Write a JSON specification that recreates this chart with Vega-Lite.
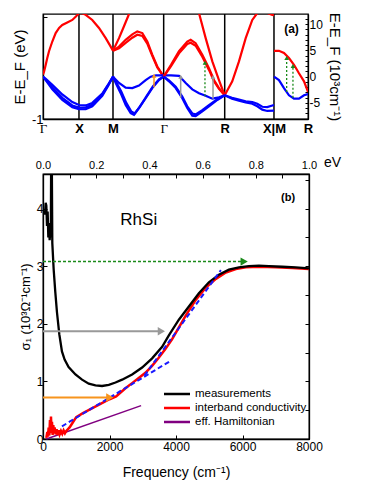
{
"$schema":"https://vega.github.io/schema/vega-lite/v6.json",
"padding":{"left":11,"top":11,"right":5,"bottom":5},
"spacing":18,
"resolve":{"scale":{"color":"independent"}},
"config":{"font":"Liberation Sans","view":{"stroke":"black","strokeWidth":1.3},
"axis":{"domainColor":"black","tickColor":"black","labelColor":"black","titleColor":"black","grid":false,"titleFontWeight":"normal","tickSize":-4,"labelFontSize":11,"titleFontSize":13,"domainWidth":1.3}},
"datasets":{
"bands":[
{"b":"c1","t":"cond","k":0,"E":0.05},{"b":"c1","t":"cond","k":0.015,"E":0.12},{"b":"c1","t":"cond","k":0.039,"E":0.28},{"b":"c1","t":"cond","k":0.061,"E":0.44},{"b":"c1","t":"cond","k":0.086,"E":0.6},{"b":"c1","t":"cond","k":0.133,"E":0.83},{"b":"c1","t":"cond","k":0.181,"E":1.03},{"b":"c1","t":"cond","k":0.23,"E":1.15},{"b":"c1","t":"cond","k":0.276,"E":1.22},{"b":"c1","t":"cond","k":0.347,"E":1.28},{"b":"c1","t":"cond","k":0.419,"E":1.34},{"b":"c1","t":"cond","k":0.47,"E":1.42},{"b":"c1","t":"cond","k":0.514,"E":1.5},{"b":"c1","t":"cond","k":0.56,"E":1.5},{"b":"c1","t":"cond","k":0.61,"E":1.46},{"b":"c1","t":"cond","k":0.704,"E":1.34},{"b":"c1","t":"cond","k":0.8,"E":1.15},{"b":"c1","t":"cond","k":0.896,"E":0.91},{"b":"c1","t":"cond","k":0.967,"E":0.71},{"b":"c1","t":"cond","k":1.0,"E":0.61},
{"b":"vlow","t":"val","k":0,"E":0},{"b":"vlow","t":"val","k":0.04,"E":-0.09},{"b":"vlow","t":"val","k":0.133,"E":-0.3},{"b":"vlow","t":"val","k":0.276,"E":-0.55},{"b":"vlow","t":"val","k":0.419,"E":-0.72},{"b":"vlow","t":"val","k":0.514,"E":-0.77},{"b":"vlow","t":"val","k":0.61,"E":-0.77},{"b":"vlow","t":"val","k":0.704,"E":-0.7},{"b":"vlow","t":"val","k":0.847,"E":-0.45},{"b":"vlow","t":"val","k":0.93,"E":-0.22},{"b":"vlow","t":"val","k":1.0,"E":0},
{"b":"vmid","t":"val","k":0,"E":0},{"b":"vmid","t":"val","k":0.04,"E":-0.07},{"b":"vmid","t":"val","k":0.133,"E":-0.25},{"b":"vmid","t":"val","k":0.276,"E":-0.5},{"b":"vmid","t":"val","k":0.419,"E":-0.68},{"b":"vmid","t":"val","k":0.514,"E":-0.73},{"b":"vmid","t":"val","k":0.61,"E":-0.73},{"b":"vmid","t":"val","k":0.704,"E":-0.66},{"b":"vmid","t":"val","k":0.847,"E":-0.42},{"b":"vmid","t":"val","k":0.93,"E":-0.2},{"b":"vmid","t":"val","k":1.0,"E":0},
{"b":"vup","t":"val","k":0,"E":0},{"b":"vup","t":"val","k":0.04,"E":-0.05},{"b":"vup","t":"val","k":0.133,"E":-0.19},{"b":"vup","t":"val","k":0.276,"E":-0.42},{"b":"vup","t":"val","k":0.419,"E":-0.6},{"b":"vup","t":"val","k":0.514,"E":-0.67},{"b":"vup","t":"val","k":0.61,"E":-0.68},{"b":"vup","t":"val","k":0.704,"E":-0.62},{"b":"vup","t":"val","k":0.847,"E":-0.4},{"b":"vup","t":"val","k":0.93,"E":-0.19},{"b":"vup","t":"val","k":1.0,"E":0},
{"b":"c2","t":"cond","k":1.0,"E":0.61},{"b":"c2","t":"cond","k":1.086,"E":0.91},{"b":"c2","t":"cond","k":1.157,"E":1.19},{"b":"c2","t":"cond","k":1.229,"E":1.48},{"b":"c2","t":"cond","k":1.3,"E":1.78},
{"b":"c3","t":"cond","k":1.0,"E":0.61},{"b":"c3","t":"cond","k":1.086,"E":0.71},{"b":"c3","t":"cond","k":1.181,"E":0.87},{"b":"c3","t":"cond","k":1.276,"E":1.0},{"b":"c3","t":"cond","k":1.347,"E":1.07},{"b":"c3","t":"cond","k":1.419,"E":1.03},{"b":"c3","t":"cond","k":1.49,"E":0.83},{"b":"c3","t":"cond","k":1.561,"E":0.52},{"b":"c3","t":"cond","k":1.633,"E":0.24},{"b":"c3","t":"cond","k":1.724,"E":0},
{"b":"c4","t":"cond","k":1.0,"E":0.61},{"b":"c4","t":"cond","k":1.086,"E":0.67},{"b":"c4","t":"cond","k":1.181,"E":0.8},{"b":"c4","t":"cond","k":1.276,"E":0.92},{"b":"c4","t":"cond","k":1.347,"E":0.99},{"b":"c4","t":"cond","k":1.419,"E":0.96},{"b":"c4","t":"cond","k":1.49,"E":0.78},{"b":"c4","t":"cond","k":1.561,"E":0.49},{"b":"c4","t":"cond","k":1.633,"E":0.22},{"b":"c4","t":"cond","k":1.724,"E":0},
{"b":"b1","t":"val","k":1.0,"E":0},{"b":"b1","t":"val","k":1.086,"E":-0.15},{"b":"b1","t":"val","k":1.181,"E":-0.26},{"b":"b1","t":"val","k":1.276,"E":-0.27},{"b":"b1","t":"val","k":1.371,"E":-0.21},{"b":"b1","t":"val","k":1.467,"E":-0.08},{"b":"b1","t":"val","k":1.539,"E":0.0},{"b":"b1","t":"val","k":1.614,"E":0.03},{"b":"b1","t":"val","k":1.724,"E":0.03},{"b":"b1","t":"val","k":1.829,"E":0.03},{"b":"b1","t":"val","k":1.943,"E":0.02},{"b":"b1","t":"val","k":2.039,"E":-0.15},{"b":"b1","t":"val","k":2.133,"E":-0.3},{"b":"b1","t":"val","k":2.229,"E":-0.39},{"b":"b1","t":"val","k":2.324,"E":-0.45},{"b":"b1","t":"val","k":2.419,"E":-0.52},{"b":"b1","t":"val","k":2.514,"E":-0.49},{"b":"b1","t":"val","k":2.596,"E":-0.44},
{"b":"b2","t":"val","k":1.0,"E":0},{"b":"b2","t":"val","k":1.039,"E":-0.15},{"b":"b2","t":"val","k":1.11,"E":-0.39},{"b":"b2","t":"val","k":1.181,"E":-0.67},{"b":"b2","t":"val","k":1.253,"E":-0.86},{"b":"b2","t":"val","k":1.3,"E":-0.9},{"b":"b2","t":"val","k":1.371,"E":-0.74},{"b":"b2","t":"val","k":1.467,"E":-0.51},{"b":"b2","t":"val","k":1.561,"E":-0.27},{"b":"b2","t":"val","k":1.657,"E":-0.08},{"b":"b2","t":"val","k":1.724,"E":0},
{"b":"b3","t":"val","k":1.0,"E":0},{"b":"b3","t":"val","k":1.045,"E":-0.13},{"b":"b3","t":"val","k":1.118,"E":-0.35},{"b":"b3","t":"val","k":1.19,"E":-0.62},{"b":"b3","t":"val","k":1.26,"E":-0.82},{"b":"b3","t":"val","k":1.31,"E":-0.87},{"b":"b3","t":"val","k":1.38,"E":-0.72},{"b":"b3","t":"val","k":1.475,"E":-0.47},{"b":"b3","t":"val","k":1.57,"E":-0.23},{"b":"b3","t":"val","k":1.66,"E":-0.06},{"b":"b3","t":"val","k":1.724,"E":0},
{"b":"c5","t":"cond","k":1.724,"E":0},{"b":"c5","t":"cond","k":1.829,"E":0.28},{"b":"c5","t":"cond","k":1.943,"E":0.6},{"b":"c5","t":"cond","k":2.061,"E":0.83},{"b":"c5","t":"cond","k":2.11,"E":0.87},{"b":"c5","t":"cond","k":2.181,"E":0.79},{"b":"c5","t":"cond","k":2.276,"E":0.52},{"b":"c5","t":"cond","k":2.371,"E":0.2},{"b":"c5","t":"cond","k":2.443,"E":-0.08},{"b":"c5","t":"cond","k":2.514,"E":-0.27},{"b":"c5","t":"cond","k":2.596,"E":-0.44},
{"b":"c6","t":"cond","k":1.724,"E":0},{"b":"c6","t":"cond","k":1.829,"E":0.25},{"b":"c6","t":"cond","k":1.943,"E":0.55},{"b":"c6","t":"cond","k":2.061,"E":0.77},{"b":"c6","t":"cond","k":2.11,"E":0.8},{"b":"c6","t":"cond","k":2.181,"E":0.73},{"b":"c6","t":"cond","k":2.276,"E":0.47},{"b":"c6","t":"cond","k":2.371,"E":0.16},{"b":"c6","t":"cond","k":2.443,"E":-0.11},{"b":"c6","t":"cond","k":2.514,"E":-0.29},{"b":"c6","t":"cond","k":2.596,"E":-0.44},
{"b":"c7","t":"cond","k":2.15,"E":2.0},{"b":"c7","t":"cond","k":2.229,"E":1.5},{"b":"c7","t":"cond","k":2.324,"E":0.91},{"b":"c7","t":"cond","k":2.419,"E":0.36},{"b":"c7","t":"cond","k":2.514,"E":-0.08},{"b":"c7","t":"cond","k":2.596,"E":-0.44},
{"b":"c8","t":"cond","k":2.596,"E":-0.44},{"b":"c8","t":"cond","k":2.704,"E":-0.11},{"b":"c8","t":"cond","k":2.8,"E":0.36},{"b":"c8","t":"cond","k":2.896,"E":0.91},{"b":"c8","t":"cond","k":2.99,"E":1.34},{"b":"c8","t":"cond","k":3.061,"E":1.5},{"b":"c8","t":"cond","k":3.181,"E":1.52},{"b":"c8","t":"cond","k":3.276,"E":1.46},{"b":"c8","t":"cond","k":3.3,"E":1.45},
{"b":"bB","t":"val","k":1.724,"E":0},{"b":"bB","t":"val","k":1.8,"E":-0.11},{"b":"bB","t":"val","k":1.896,"E":-0.27},{"b":"bB","t":"val","k":1.99,"E":-0.51},{"b":"bB","t":"val","k":2.061,"E":-0.74},{"b":"bB","t":"val","k":2.133,"E":-0.92},{"b":"bB","t":"val","k":2.181,"E":-0.93},{"b":"bB","t":"val","k":2.276,"E":-0.82},{"b":"bB","t":"val","k":2.371,"E":-0.7},{"b":"bB","t":"val","k":2.49,"E":-0.55},{"b":"bB","t":"val","k":2.596,"E":-0.44},
{"b":"bB2","t":"val","k":1.724,"E":0},{"b":"bB2","t":"val","k":1.8,"E":-0.09},{"b":"bB2","t":"val","k":1.896,"E":-0.24},{"b":"bB2","t":"val","k":1.99,"E":-0.47},{"b":"bB2","t":"val","k":2.061,"E":-0.7},{"b":"bB2","t":"val","k":2.133,"E":-0.87},{"b":"bB2","t":"val","k":2.181,"E":-0.89},{"b":"bB2","t":"val","k":2.276,"E":-0.79},{"b":"bB2","t":"val","k":2.371,"E":-0.67},{"b":"bB2","t":"val","k":2.49,"E":-0.53},{"b":"bB2","t":"val","k":2.596,"E":-0.44},
{"b":"bR1","t":"val","k":2.596,"E":-0.44},{"b":"bR1","t":"val","k":2.7,"E":-0.5},{"b":"bR1","t":"val","k":2.8,"E":-0.54},{"b":"bR1","t":"val","k":2.896,"E":-0.58},{"b":"bR1","t":"val","k":2.99,"E":-0.6},{"b":"bR1","t":"val","k":3.061,"E":-0.64},{"b":"bR1","t":"val","k":3.133,"E":-0.71},{"b":"bR1","t":"val","k":3.204,"E":-0.72},{"b":"bR1","t":"val","k":3.3,"E":-0.67},
{"b":"bR2","t":"val","k":2.596,"E":-0.44},{"b":"bR2","t":"val","k":2.7,"E":-0.52},{"b":"bR2","t":"val","k":2.8,"E":-0.57},{"b":"bR2","t":"val","k":2.896,"E":-0.61},{"b":"bR2","t":"val","k":2.99,"E":-0.64},{"b":"bR2","t":"val","k":3.061,"E":-0.7},{"b":"bR2","t":"val","k":3.133,"E":-0.78},{"b":"bR2","t":"val","k":3.204,"E":-0.81},{"b":"bR2","t":"val","k":3.3,"E":-0.8},
{"b":"c9","t":"cond","k":3.3,"E":0.61},{"b":"c9","t":"cond","k":3.371,"E":0.61},{"b":"c9","t":"cond","k":3.443,"E":0.56},{"b":"c9","t":"cond","k":3.514,"E":0.44},{"b":"c9","t":"cond","k":3.586,"E":0.28},{"b":"c9","t":"cond","k":3.657,"E":0.08},{"b":"c9","t":"cond","k":3.729,"E":-0.11},{"b":"c9","t":"cond","k":3.786,"E":-0.36},
{"b":"b9","t":"val","k":3.3,"E":0},{"b":"b9","t":"val","k":3.371,"E":-0.08},{"b":"b9","t":"val","k":3.443,"E":-0.27},{"b":"b9","t":"val","k":3.514,"E":-0.44},{"b":"b9","t":"val","k":3.586,"E":-0.52},{"b":"b9","t":"val","k":3.657,"E":-0.52},{"b":"b9","t":"val","k":3.729,"E":-0.44},{"b":"b9","t":"val","k":3.786,"E":-0.41}
],
"kpts":[{"k":0.514},{"k":1.0},{"k":1.724},{"k":2.596},{"k":3.3}],
"tarrows":[
{"kind":"orange","k":1.586,"y1":-0.25,"y2":0.02},
{"kind":"grey","k":1.967,"y1":-0.5,"y2":0.0},
{"kind":"grey","k":2.429,"y1":-0.52,"y2":-0.01},
{"kind":"green","k":2.314,"y1":-0.46,"y2":0.33},
{"kind":"green","k":3.481,"y1":-0.36,"y2":0.44},
{"kind":"green","k":3.571,"y1":-0.5,"y2":0.25}
],
"cond":[
{"series":"measurements","f":30,"s":3.95},{"series":"measurements","f":60,"s":3.9},{"series":"measurements","f":80,"s":4.1},{"series":"measurements","f":100,"s":4.05},{"series":"measurements","f":120,"s":3.7},{"series":"measurements","f":140,"s":3.95},{"series":"measurements","f":160,"s":3.5},{"series":"measurements","f":180,"s":3.75},{"series":"measurements","f":200,"s":3.45},{"series":"measurements","f":220,"s":3.6},{"series":"measurements","f":235,"s":3.5},{"series":"measurements","f":245,"s":4.8},{"series":"measurements","f":265,"s":4.8},{"series":"measurements","f":280,"s":3.4},{"series":"measurements","f":320,"s":2.95},{"series":"measurements","f":370,"s":2.55},{"series":"measurements","f":420,"s":2.2},{"series":"measurements","f":490,"s":1.82},{"series":"measurements","f":570,"s":1.52},{"series":"measurements","f":650,"s":1.38},{"series":"measurements","f":770,"s":1.25},{"series":"measurements","f":976,"s":1.12},{"series":"measurements","f":1174,"s":1.03},{"series":"measurements","f":1376,"s":0.96},{"series":"measurements","f":1578,"s":0.93},{"series":"measurements","f":1776,"s":0.92},{"series":"measurements","f":1978,"s":0.94},{"series":"measurements","f":2180,"s":0.98},{"series":"measurements","f":2379,"s":1.03},{"series":"measurements","f":2680,"s":1.12},{"series":"measurements","f":2981,"s":1.24},{"series":"measurements","f":3282,"s":1.4},{"series":"measurements","f":3583,"s":1.6},{"series":"measurements","f":3785,"s":1.8},{"series":"measurements","f":4086,"s":2.07},{"series":"measurements","f":4387,"s":2.3},{"series":"measurements","f":4688,"s":2.53},{"series":"measurements","f":4989,"s":2.72},{"series":"measurements","f":5290,"s":2.85},{"series":"measurements","f":5591,"s":2.94},{"series":"measurements","f":5892,"s":2.98},{"series":"measurements","f":6193,"s":3.0},{"series":"measurements","f":6494,"s":3.01},{"series":"measurements","f":6795,"s":3.0},{"series":"measurements","f":7196,"s":2.99},{"series":"measurements","f":7600,"s":2.98},{"series":"measurements","f":8000,"s":2.96},
{"series":"interband conductivity","f":100,"s":0.02},{"series":"interband conductivity","f":130,"s":0.12},{"series":"interband conductivity","f":150,"s":0.04},{"series":"interband conductivity","f":170,"s":0.2},{"series":"interband conductivity","f":190,"s":0.06},{"series":"interband conductivity","f":210,"s":0.33},{"series":"interband conductivity","f":225,"s":0.1},{"series":"interband conductivity","f":240,"s":0.39},{"series":"interband conductivity","f":255,"s":0.12},{"series":"interband conductivity","f":270,"s":0.3},{"series":"interband conductivity","f":290,"s":0.07},{"series":"interband conductivity","f":310,"s":0.24},{"series":"interband conductivity","f":330,"s":0.1},{"series":"interband conductivity","f":350,"s":0.2},{"series":"interband conductivity","f":380,"s":0.08},{"series":"interband conductivity","f":410,"s":0.17},{"series":"interband conductivity","f":440,"s":0.07},{"series":"interband conductivity","f":470,"s":0.15},{"series":"interband conductivity","f":500,"s":0.08},{"series":"interband conductivity","f":540,"s":0.14},{"series":"interband conductivity","f":580,"s":0.09},{"series":"interband conductivity","f":620,"s":0.15},{"series":"interband conductivity","f":660,"s":0.1},{"series":"interband conductivity","f":700,"s":0.14},{"series":"interband conductivity","f":800,"s":0.2},{"series":"interband conductivity","f":900,"s":0.29},{"series":"interband conductivity","f":1000,"s":0.38},{"series":"interband conductivity","f":1200,"s":0.45},{"series":"interband conductivity","f":1400,"s":0.51},{"series":"interband conductivity","f":1600,"s":0.57},{"series":"interband conductivity","f":1800,"s":0.63},{"series":"interband conductivity","f":2000,"s":0.69},{"series":"interband conductivity","f":2200,"s":0.74},{"series":"interband conductivity","f":2480,"s":0.88},{"series":"interband conductivity","f":2680,"s":0.97},{"series":"interband conductivity","f":2880,"s":1.06},{"series":"interband conductivity","f":3080,"s":1.15},{"series":"interband conductivity","f":3280,"s":1.27},{"series":"interband conductivity","f":3480,"s":1.41},{"series":"interband conductivity","f":3680,"s":1.56},{"series":"interband conductivity","f":3880,"s":1.73},{"series":"interband conductivity","f":4040,"s":1.89},{"series":"interband conductivity","f":4300,"s":2.15},{"series":"interband conductivity","f":4600,"s":2.42},{"series":"interband conductivity","f":4900,"s":2.63},{"series":"interband conductivity","f":5200,"s":2.78},{"series":"interband conductivity","f":5500,"s":2.89},{"series":"interband conductivity","f":5800,"s":2.95},{"series":"interband conductivity","f":6100,"s":2.98},{"series":"interband conductivity","f":6500,"s":2.99},{"series":"interband conductivity","f":7000,"s":2.98},{"series":"interband conductivity","f":7500,"s":2.97},{"series":"interband conductivity","f":8000,"s":2.95},
{"series":"eff. Hamiltonian","f":100,"s":0.0},{"series":"eff. Hamiltonian","f":2950,"s":0.58}
],
"fits":[{"seg":"L1","f":570,"s":0.22},{"seg":"L1","f":3790,"s":1.34},{"seg":"L2","f":3050,"s":1.1},{"seg":"L2","f":5350,"s":2.93}],
"barrows":[{"kind":"green","s":3.08,"f1":0,"f2":6050},{"kind":"grey","s":1.87,"f1":0,"f2":3560},{"kind":"orange","s":0.72,"f1":0,"f2":2010}]
},
"vconcat":[
{"width":265,"height":105,
"layer":[
{"layer":[
{"data":{"name":"kpts"},"mark":{"type":"rule","color":"black","strokeWidth":1.5},"encoding":{"x":{"field":"k","type":"quantitative"}}},
{"mark":{"type":"rule","color":"#555555","strokeWidth":1.5},"encoding":{"y":{"datum":0,"type":"quantitative"}}},
{"data":{"name":"bands"},"mark":{"type":"line","strokeWidth":2.2,"clip":true},
"encoding":{
"x":{"field":"k","type":"quantitative","scale":{"domain":[0,3.786],"nice":false,"zero":false},
"axis":{"title":null,"values":[0,0.514,1.0,1.724,2.596,3.3,3.786],"labelExpr":"datum.value < 0.2 ? 'Γ' : datum.value < 0.7 ? 'X' : datum.value < 1.3 ? 'M' : datum.value < 2.0 ? 'Γ' : datum.value < 3.0 ? 'R' : datum.value < 3.5 ? 'X|M' : 'R'","ticks":false,"labelFlush":false,"labelOverlap":false,"labelFontSize":13,"labelPadding":3,
"labelFont":{"condition":{"test":"datum.value < 0.2 || (datum.value > 1.5 && datum.value < 2)","value":"Liberation Serif"},"value":"Liberation Sans"},
"labelFontWeight":{"condition":{"test":"datum.value < 0.2 || (datum.value > 1.5 && datum.value < 2)","value":"normal"},"value":"bold"}}},
"y":{"field":"E","type":"quantitative","scale":{"domain":[-1,1.48],"nice":false,"zero":false},
"axis":{"title":"E-E_F (eV)","values":[-1,-0.8,-0.6,-0.4,-0.2,0,0.2,0.4,0.6,0.8,1,1.2,1.4],"labelExpr":"abs(datum.value-round(datum.value))<0.01 ? ''+round(datum.value) : ''","labelFontSize":13,"titleFontSize":15,"labelPadding":4}},
"color":{"field":"t","type":"nominal","scale":{"domain":["cond","val"],"range":["#ff0000","#0000ff"]},"legend":null},
"detail":{"field":"b"}}},
{"data":{"name":"tarrows"},"transform":[{"filter":"datum.kind=='orange'"}],"mark":{"type":"rule","color":"#f7941d","strokeWidth":1.5},"encoding":{"x":{"field":"k","type":"quantitative"},"y":{"field":"y1","type":"quantitative"},"y2":{"field":"y2"}}},
{"data":{"name":"tarrows"},"transform":[{"filter":"datum.kind=='orange'"}],"mark":{"type":"point","shape":"triangle-up","filled":true,"opacity":1,"color":"#f7941d","size":22},"encoding":{"x":{"field":"k","type":"quantitative"},"y":{"field":"y2","type":"quantitative"}}},
{"data":{"name":"tarrows"},"transform":[{"filter":"datum.kind=='grey'"}],"mark":{"type":"rule","color":"#999999","strokeWidth":1.5},"encoding":{"x":{"field":"k","type":"quantitative"},"y":{"field":"y1","type":"quantitative"},"y2":{"field":"y2"}}},
{"data":{"name":"tarrows"},"transform":[{"filter":"datum.kind=='grey'"}],"mark":{"type":"point","shape":"triangle-up","filled":true,"opacity":1,"color":"#999999","size":22},"encoding":{"x":{"field":"k","type":"quantitative"},"y":{"field":"y2","type":"quantitative"}}},
{"data":{"name":"tarrows"},"transform":[{"filter":"datum.kind=='green'"}],"mark":{"type":"rule","color":"#1a8a1a","strokeWidth":1.3,"strokeDash":[2,2]},"encoding":{"x":{"field":"k","type":"quantitative"},"y":{"field":"y1","type":"quantitative"},"y2":{"field":"y2"}}},
{"data":{"name":"tarrows"},"transform":[{"filter":"datum.kind=='green'"}],"mark":{"type":"point","shape":"triangle-up","filled":true,"opacity":1,"color":"#1a8a1a","size":22},"encoding":{"x":{"field":"k","type":"quantitative"},"y":{"field":"y2","type":"quantitative"}}},
{"data":{"values":[{"k":3.55,"E":1.13,"label":"(a)"}]},"mark":{"type":"text","fontWeight":"bold","fontSize":12,"color":"black"},"encoding":{"x":{"field":"k","type":"quantitative"},"y":{"field":"E","type":"quantitative"},"text":{"field":"label"}}}
]},
{"mark":{"type":"rule","opacity":0},"encoding":{"y":{"datum":0,"type":"quantitative","scale":{"domain":[-8.07,11.94],"nice":false,"zero":false},
"axis":{"orient":"right","title":"E-E_F (10³cm⁻¹)","values":[-8,-7,-6,-5,-4,-3,-2,-1,0,1,2,3,4,5,6,7,8,9,10,11],"labelExpr":"datum.value % 5 == 0 ? ''+datum.value : ''","labelFontSize":12,"titleFontSize":15,"tickSize":-3,"labelPadding":4}}}}
],
"resolve":{"scale":{"y":"independent"}}
},
{"width":266,"height":265,
"layer":[
{"layer":[
{"data":{"name":"cond"},"transform":[{"filter":"datum.series=='eff. Hamiltonian'"}],"mark":{"type":"line","strokeWidth":1.5},
"encoding":{"x":{"field":"f","type":"quantitative","scale":{"domain":[0,8000],"nice":false},
"axis":{"title":"Frequency (cm⁻¹)","values":[0,1000,2000,3000,4000,5000,6000,7000,8000],"labelExpr":"datum.value % 2000 == 0 ? ''+datum.value : ''","labelFlush":false,"labelFontSize":12,"titleFontSize":14,"titlePadding":13,"labelPadding":6}},
"y":{"field":"s","type":"quantitative","scale":{"domain":[0,4.6],"nice":false},
"axis":{"title":"σ₁ (10³Ω⁻¹cm⁻¹)","values":[0,0.5,1,1.5,2,2.5,3,3.5,4,4.5],"labelExpr":"abs(datum.value-round(datum.value))<0.01 ? ''+round(datum.value) : ''","labelFontSize":12,"titleFontSize":13,"labelPadding":4}},
"color":{"field":"series","type":"nominal","scale":{"domain":["measurements","interband conductivity","eff. Hamiltonian"],"range":["#000000","#ff0000","#800080"]},
"legend":{"orient":"none","legendX":126,"legendY":212,"title":null,"symbolType":"M-2,0H2","symbolStrokeWidth":2.5,"symbolSize":169,"labelFontSize":11.5,"rowPadding":-2,"labelOffset":10,"padding":0}}}},
{"data":{"name":"cond"},"transform":[{"filter":"datum.series=='interband conductivity'"}],"mark":{"type":"line","strokeWidth":2.5,"clip":true},
"encoding":{"x":{"field":"f","type":"quantitative"},"y":{"field":"s","type":"quantitative"},"color":{"field":"series","type":"nominal"}}},
{"data":{"name":"cond"},"transform":[{"filter":"datum.series=='measurements'"}],"mark":{"type":"line","strokeWidth":2.3,"clip":true},
"encoding":{"x":{"field":"f","type":"quantitative"},"y":{"field":"s","type":"quantitative"},"color":{"field":"series","type":"nominal"}}},
{"data":{"name":"fits"},"mark":{"type":"line","color":"#1a1aff","strokeWidth":2,"strokeDash":[5,3]},"encoding":{"x":{"field":"f","type":"quantitative"},"y":{"field":"s","type":"quantitative"},"detail":{"field":"seg"}}},
{"data":{"name":"barrows"},"transform":[{"filter":"datum.kind=='green'"}],"mark":{"type":"rule","color":"#1a8a1a","strokeWidth":1.5,"strokeDash":[3,2]},"encoding":{"x":{"field":"f1","type":"quantitative"},"x2":{"field":"f2"},"y":{"field":"s","type":"quantitative"}}},
{"data":{"name":"barrows"},"transform":[{"filter":"datum.kind=='green'"}],"mark":{"type":"point","shape":"triangle-right","filled":true,"opacity":1,"color":"#1a8a1a","size":70},"encoding":{"x":{"field":"f2","type":"quantitative"},"y":{"field":"s","type":"quantitative"}}},
{"data":{"name":"barrows"},"transform":[{"filter":"datum.kind=='grey'"}],"mark":{"type":"rule","color":"#999999","strokeWidth":1.8},"encoding":{"x":{"field":"f1","type":"quantitative"},"x2":{"field":"f2"},"y":{"field":"s","type":"quantitative"}}},
{"data":{"name":"barrows"},"transform":[{"filter":"datum.kind=='grey'"}],"mark":{"type":"point","shape":"triangle-right","filled":true,"opacity":1,"color":"#999999","size":70},"encoding":{"x":{"field":"f2","type":"quantitative"},"y":{"field":"s","type":"quantitative"}}},
{"data":{"name":"barrows"},"transform":[{"filter":"datum.kind=='orange'"}],"mark":{"type":"rule","color":"#f7941d","strokeWidth":1.8},"encoding":{"x":{"field":"f1","type":"quantitative"},"x2":{"field":"f2"},"y":{"field":"s","type":"quantitative"}}},
{"data":{"name":"barrows"},"transform":[{"filter":"datum.kind=='orange'"}],"mark":{"type":"point","shape":"triangle-right","filled":true,"opacity":1,"color":"#f7941d","size":70},"encoding":{"x":{"field":"f2","type":"quantitative"},"y":{"field":"s","type":"quantitative"}}},
{"data":{"values":[{"f":2880,"s":3.81,"label":"RhSi"}]},"mark":{"type":"text","fontSize":17,"color":"black"},"encoding":{"x":{"field":"f","type":"quantitative"},"y":{"field":"s","type":"quantitative"},"text":{"field":"label"}}},
{"data":{"values":[{"f":7370,"s":4.19,"label":"(b)"}]},"mark":{"type":"text","fontSize":11,"fontWeight":"bold","color":"black"},"encoding":{"x":{"field":"f","type":"quantitative"},"y":{"field":"s","type":"quantitative"},"text":{"field":"label"}}}
]},
{"mark":{"type":"rule","opacity":0},"encoding":{"x":{"datum":0.5,"type":"quantitative","scale":{"domain":[0,1],"nice":false,"zero":false},
"axis":{"orient":"top","title":"eV","titleAngle":0,"titleX":289,"titleY":-12,"titleBaseline":"middle","titleAlign":"center","titleFontSize":14,"values":[0,0.1,0.2,0.3,0.4,0.5,0.6,0.7,0.8,0.9,1.0],"labelExpr":"round(datum.value*10) % 2 == 0 ? format(datum.value,'.1f') : ''","labelFlush":false,"labelFontSize":11,"labelPadding":8}}}},
{"mark":{"type":"rule","opacity":0},"encoding":{"y":{"datum":1,"type":"quantitative","scale":{"domain":[0,4.6],"nice":false},
"axis":{"orient":"right","title":null,"labels":false,"values":[0,0.5,1,1.5,2,2.5,3,3.5,4,4.5]}}}}
],
"resolve":{"scale":{"x":"independent","y":"independent"}}
}
]
}
